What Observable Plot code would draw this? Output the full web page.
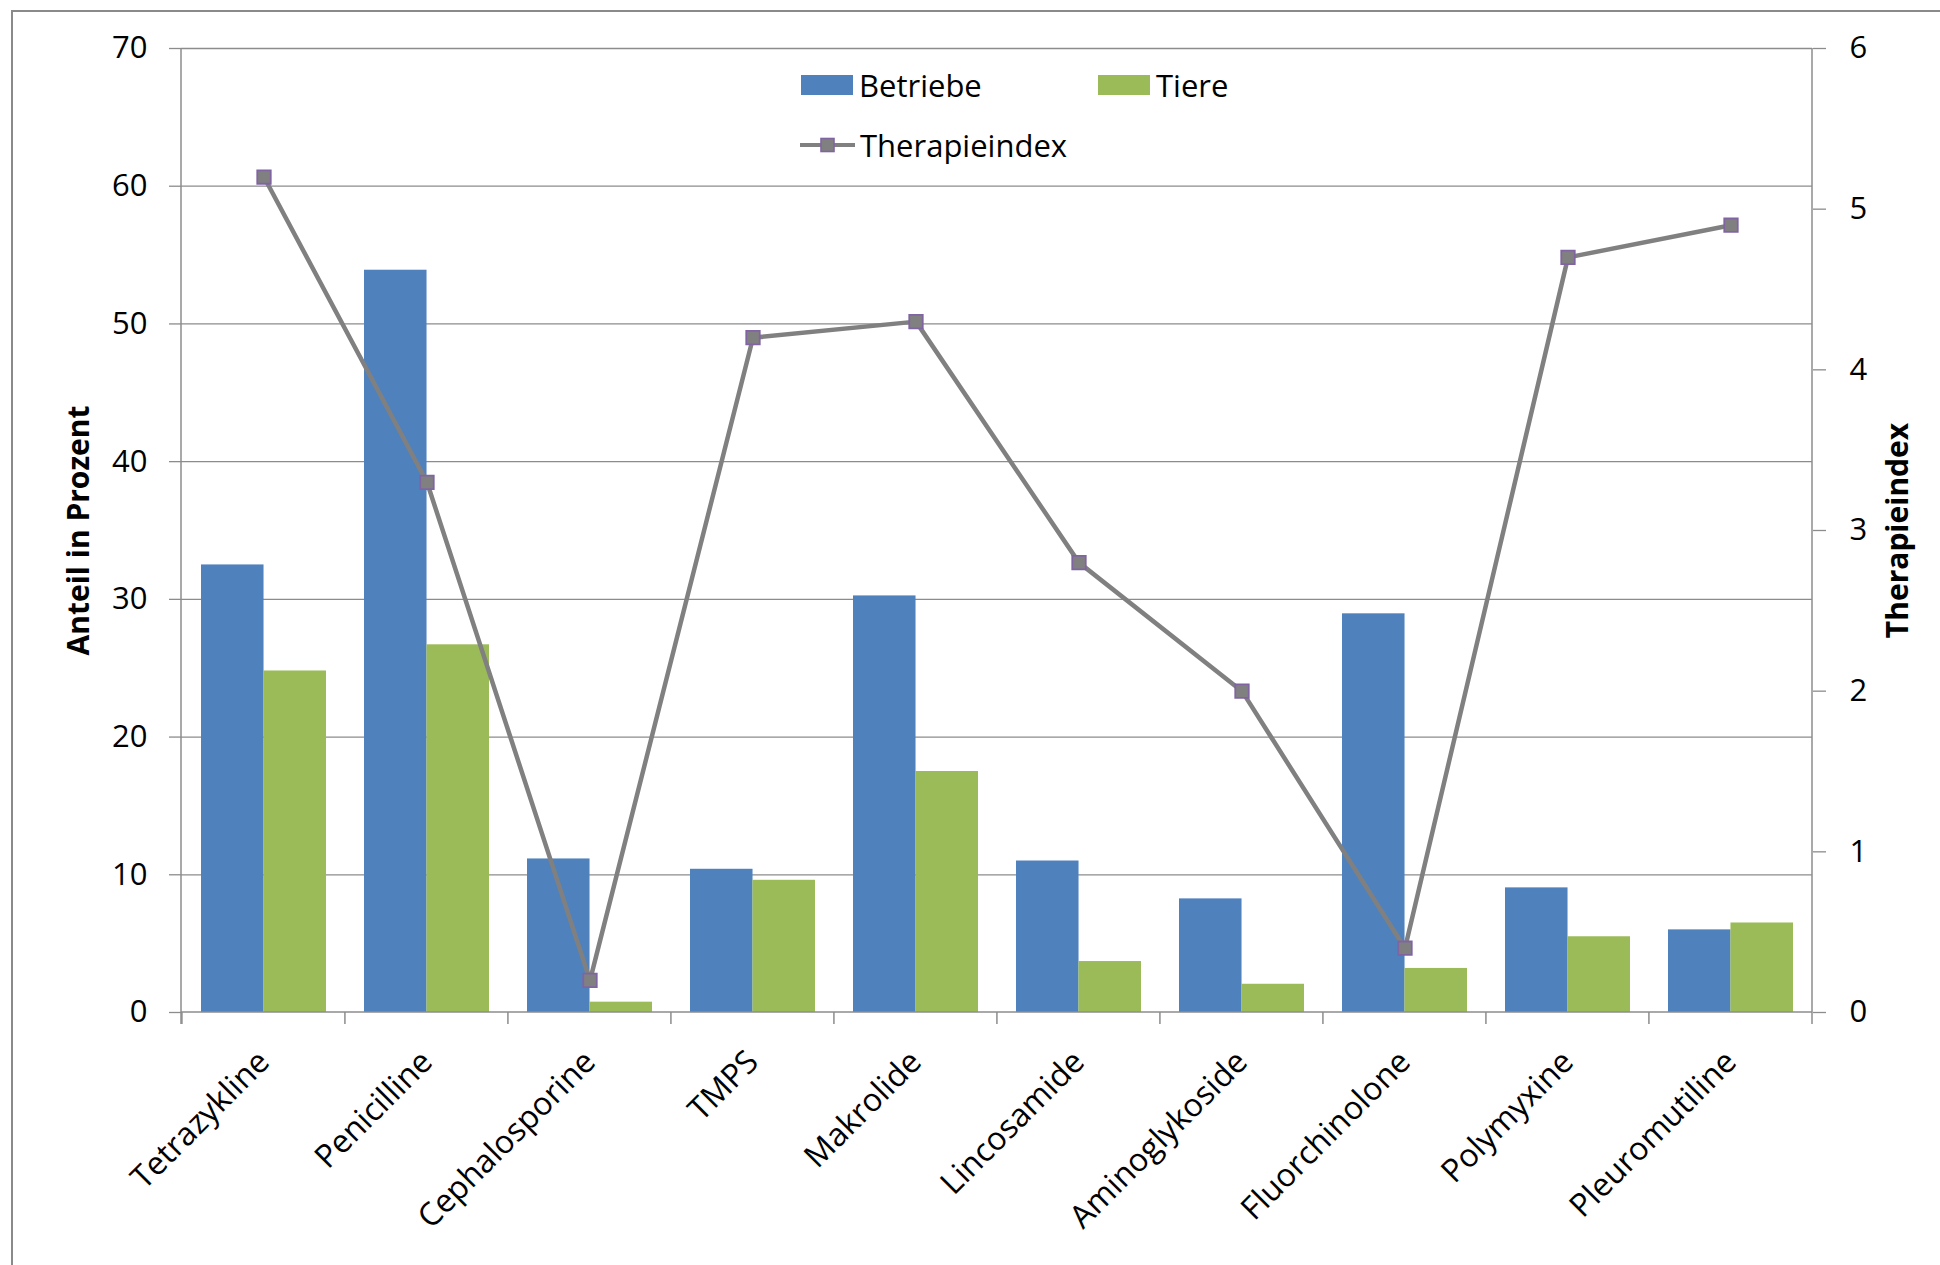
<!DOCTYPE html>
<html>
<head>
<meta charset="utf-8">
<script src="https://cdn.jsdelivr.net/npm/d3@7"></script>
<script src="https://cdn.jsdelivr.net/npm/@observablehq/plot@0.6"></script>
<style>
  body { margin: 0; background: #fff; }
  #wrap { position: relative; width: 1940px; height: 1265px; overflow: hidden; font-family: "Open Sans", sans-serif; color: #000; }
  #frame { position: absolute; left: 11px; top: 10px; width: 2100px; height: 1400px; border-top: 2px solid #8a8a8a; border-left: 2px solid #8a8a8a; }
  #chart { position: absolute; left: 0; top: 0; }
  #legend { position: absolute; left: 0; top: 0; font-family: "Open Sans", sans-serif; font-size: 31px; }
  .li { position: absolute; display: flex; align-items: center; white-space: nowrap; }
  .sw { width: 52px; height: 20px; margin-right: 6px; }
</style>
</head>
<body>
<div id="wrap">
  <div id="frame"></div>
  <div id="chart"></div>
  <div id="legend"></div>
</div>
<script>
// ---- data ----
const categories = ["Tetrazykline", "Penicilline", "Cephalosporine", "TMPS", "Makrolide", "Lincosamide", "Aminoglykoside", "Fluorchinolone", "Polymyxine", "Pleuromutiline"];
const betriebe = [32.5, 53.9, 11.15, 10.4, 30.25, 11.0, 8.25, 28.95, 9.05, 6.0];
const tiere = [24.8, 26.7, 0.75, 9.6, 17.5, 3.7, 2.05, 3.2, 5.5, 6.5];
const therapieindex = [5.2, 3.3, 0.2, 4.2, 4.3, 2.8, 2.0, 0.4, 4.7, 4.9];
const leftTicks = [0, 10, 20, 30, 40, 50, 60, 70];
const rightTicks = [0, 1, 2, 3, 4, 5, 6];
const seriesNames = ["Betriebe", "Tiere", "Therapieindex"];

// ---- styling / layout ----
const colors = {Betriebe: "#4F81BD", Tiere: "#9BBB59", line: "#808080", marker: "#8064A2"};
const W = 1940, H = 1265;
const mL = 181, mR = 128, mT = 48, mB = 253;
const padInner = 0.234, padOuter = padInner / 2;
const leftMax = 70, rightMax = 6;
const ratio = leftMax / rightMax;

const rows = categories.map((c, i) => ({cat: c, betriebe: betriebe[i], tiere: tiere[i], ti: therapieindex[i]}));

const step = (W - mL - mR) / categories.length;
const bw = step * (1 - padInner);

// custom axis lines + category boundary ticks
function axisFrame(index, scales, values, dims) {
  const g = d3.create("svg:g").attr("stroke", "#8c8c8c").attr("stroke-width", 1.5).attr("fill", "none");
  const x0 = dims.marginLeft, x1 = dims.width - dims.marginRight;
  const y0 = dims.height - dims.marginBottom, yT = dims.marginTop;
  const st = (x1 - x0) / categories.length;
  g.append("line").attr("x1", x0).attr("x2", x0).attr("y1", yT).attr("y2", y0 + 12);
  g.append("line").attr("x1", x1).attr("x2", x1).attr("y1", yT).attr("y2", y0 + 12);
  g.append("line").attr("x1", x0).attr("x2", x1).attr("y1", y0).attr("y2", y0);
  categories.forEach((c, i) => {
    const xb = scales.x(c) - padOuter * st;
    g.append("line").attr("x1", xb).attr("x2", xb).attr("y1", y0).attr("y2", y0 + 12);
  });
  return g.node();
}

const chart = Plot.plot({
  width: W, height: H,
  marginLeft: mL, marginRight: mR, marginTop: mT, marginBottom: mB,
  style: {fontFamily: "Open Sans, sans-serif", fontSize: "31px", color: "#000", background: "transparent"},
  x: {domain: categories, paddingInner: padInner, paddingOuter: padOuter, label: null},
  y: {domain: [0, leftMax], label: null},
  marks: [
    Plot.ruleY(leftTicks.filter(d => d > 0), {stroke: "#8c8c8c", strokeWidth: 1.3}),
    Plot.barY(rows, {x: "cat", y: "betriebe", fill: colors.Betriebe, insetRight: bw / 2}),
    Plot.barY(rows, {x: "cat", y: "tiere", fill: colors.Tiere, insetLeft: bw / 2}),
    axisFrame,
    Plot.axisY({anchor: "left", ticks: leftTicks, tickSize: 12, tickPadding: 22, stroke: "#8c8c8c", strokeWidth: 1.3, fontSize: 31, label: null}),
    Plot.axisY({anchor: "right", ticks: rightTicks.map(t => t * ratio), tickFormat: d => String(Math.round(d / ratio)), tickSize: 13, tickPadding: 24, stroke: "#8c8c8c", strokeWidth: 1.3, fontSize: 31, label: null}),
    Plot.axisX({tickRotate: -45, tickSize: 0, tickPadding: 44, fontSize: 32, label: null}),
    Plot.lineY(rows, {x: "cat", y: d => d.ti * ratio, stroke: colors.line, strokeWidth: 4.5}),
    Plot.dot(rows, {x: "cat", y: d => d.ti * ratio, symbol: "square", r: 7.6, fill: colors.line, stroke: colors.marker, strokeWidth: 1.8}),
    Plot.text(["Anteil in Prozent"], {frameAnchor: "left", text: d => d, rotate: -90, textAnchor: "middle", dx: -102, fontWeight: "bold", fontSize: 30}),
    Plot.text(["Therapieindex"], {frameAnchor: "right", text: d => d, rotate: -90, textAnchor: "middle", dx: 86, fontWeight: "bold", fontSize: 30})
  ]
});
document.getElementById("chart").appendChild(chart);

// ---- legend (inside plot area, top) ----
const legend = document.getElementById("legend");
const items = [
  {name: seriesNames[0], type: "bar", color: colors.Betriebe, left: 801, top: 85},
  {name: seriesNames[1], type: "bar", color: colors.Tiere, left: 1098, top: 85},
  {name: seriesNames[2], type: "line", left: 800, top: 145}
];
items.forEach(it => {
  const d = document.createElement("div");
  d.className = "li";
  d.style.left = it.left + "px";
  d.style.top = (it.top - 22) + "px";
  d.style.height = "44px";
  if (it.type === "bar") {
    const s = document.createElement("div");
    s.className = "sw";
    s.style.background = it.color;
    d.appendChild(s);
  } else {
    const svg = d3.create("svg").attr("width", 56).attr("height", 20).style("margin-right", "4px");
    svg.append("line").attr("x1", 0).attr("x2", 55).attr("y1", 10).attr("y2", 10).attr("stroke", colors.line).attr("stroke-width", 4);
    svg.append("rect").attr("x", 21).attr("y", 3.5).attr("width", 13).attr("height", 13).attr("fill", colors.line).attr("stroke", colors.marker).attr("stroke-width", 1.6);
    d.appendChild(svg.node());
  }
  const t = document.createElement("span");
  t.textContent = it.name;
  d.appendChild(t);
  legend.appendChild(d);
});
</script>
</body>
</html>
